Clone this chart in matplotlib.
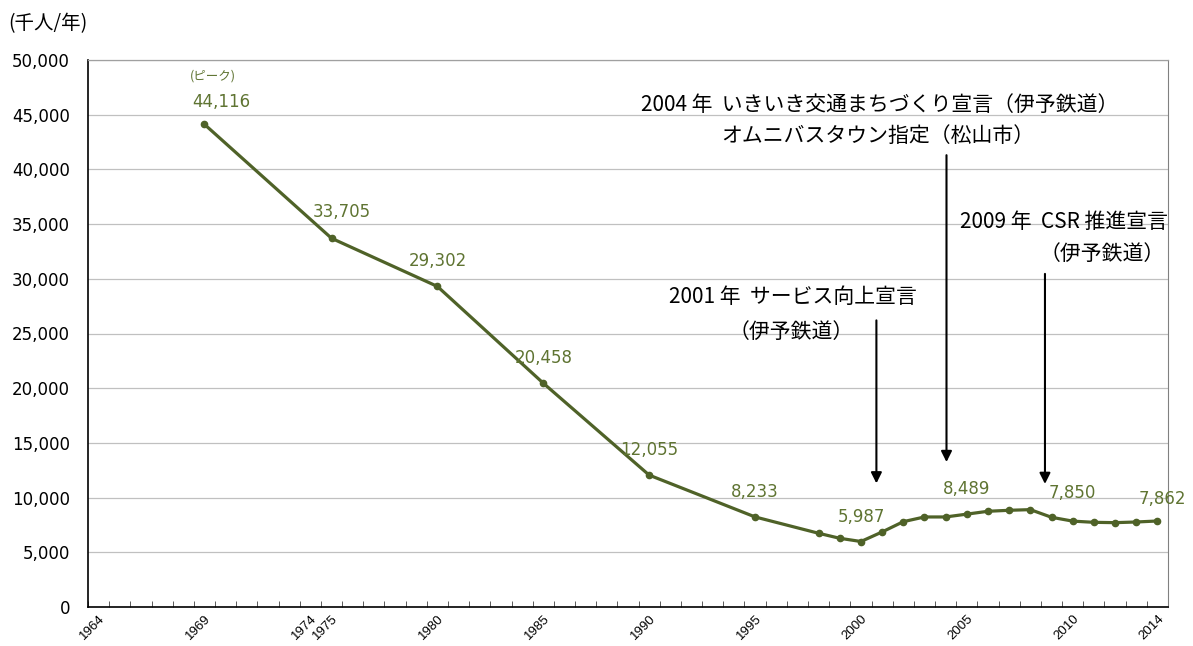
import matplotlib.pyplot as plt
from matplotlib.ticker import FuncFormatter, FixedLocator

plt.rcParams['font.family'] = ['Noto Sans CJK JP', 'DejaVu Sans']

# 輸送人員（千人/年）
years = [1969, 1975, 1980, 1985, 1990, 1995, 1998, 1999, 2000, 2001, 2002,
         2003, 2004, 2005, 2006, 2007, 2008, 2009, 2010, 2011, 2012, 2013, 2014]
riders = [44116, 33705, 29302, 20458, 12055, 8233, 6740, 6280, 5987, 6860, 7800,
          8230, 8230, 8489, 8750, 8840, 8900, 8200, 7850, 7740, 7710, 7770, 7862]

label_years = [1969, 1975, 1980, 1985, 1990, 1995, 2000, 2005, 2010, 2014]
tick_years = [1964, 1969, 1974, 1975, 1980, 1985, 1990, 1995, 2000, 2005, 2010, 2014]

# 注記: (年, 矢印の先, 矢印の根元, 1行目, 2行目)
events = [
    (2000.73, 11300, 26200, '2001 年  サービス向上宣言', '（伊予鉄道）'),
    (2004.04, 13250, 41300, '2004 年  いきいき交通まちづくり宣言（伊予鉄道）', 'オムニバスタウン指定（松山市）'),
    (2008.69, 11250, 30450, '2009 年  CSR 推進宣言', '（伊予鉄道）'),
]

olive = '#4f6228'
label_col = '#5f7432'
num_font = ['DejaVu Sans']

fig = plt.figure(figsize=(11.93, 6.46), dpi=100)
ax = fig.add_axes([88 / 1193, 39 / 646, 1080 / 1193, 547 / 646])

ax.plot(years, riders, color=olive, lw=2.3, marker='o', ms=4.5, zorder=3)

# データラベル（ずれはピクセル → ポイント）
offsets = {1969: (17, 22), 1975: (10, 26), 2014: (5, 22), 2010: (0, 28)}
for y, v in zip(years, riders):
    if y not in label_years:
        continue
    dx, dy = offsets.get(y, (0, 25))
    ax.annotate(f'{v:,}', (y, v), xytext=(dx * 0.72, dy * 0.72),
                textcoords='offset points', ha='center', va='center',
                fontsize=12, color=label_col, family=num_font)
ax.annotate('(ピーク)', (years[0], riders[0]), xytext=(8 * 0.72, 48 * 0.72),
            textcoords='offset points', ha='center', va='center',
            fontsize=9, color=label_col)

for x, tip, tail, line1, line2 in events:
    ax.annotate('', xy=(x, tip), xytext=(x, tail),
                arrowprops=dict(arrowstyle='-|>', color='black', lw=1.5,
                                mutation_scale=16, shrinkA=0, shrinkB=0))

ax.text(2000.9, 45900, events[1][3], ha='center', va='center', fontsize=15)
ax.text(2000.8, 43050, events[1][4], ha='center', va='center', fontsize=15)
ax.text(1996.8, 28350, events[0][3], ha='center', va='center', fontsize=15)
ax.text(1996.7, 25100, events[0][4], ha='center', va='center', fontsize=15)
ax.text(2009.6, 35200, events[2][3], ha='center', va='center', fontsize=15)
ax.text(2011.4, 32300, events[2][4], ha='center', va='center', fontsize=15)

ax.set_xlim(1963.5, 2014.5)
ax.set_ylim(0, 50000)
ax.set_yticks(range(0, 50001, 5000))
ax.yaxis.set_major_formatter(FuncFormatter(lambda v, p: f'{int(v):,}'))
ax.tick_params(axis='y', length=0, labelsize=12, pad=13)
for t in ax.get_yticklabels():
    t.set_family(num_font)
ax.grid(axis='y', color='#c0c0c0', lw=0.9)
ax.set_axisbelow(True)

ax.set_xticks(tick_years)
ax.set_xticklabels([str(t) for t in tick_years], rotation=45, ha='right',
                   rotation_mode='anchor', fontsize=9.5, family=['Liberation Sans'])
ax.tick_params(axis='x', which='major', length=0, pad=4)
ax.xaxis.set_minor_locator(FixedLocator([1963.5 + k for k in range(52)]))
ax.tick_params(axis='x', which='minor', direction='in', length=4, color='#404040')

ax.spines['left'].set_color('black')
ax.spines['bottom'].set_color('black')
ax.spines['left'].set_linewidth(1.2)
ax.spines['bottom'].set_linewidth(1.2)
ax.spines['right'].set_color('#808080')
ax.spines['top'].set_color('#a0a0a0')
ax.spines['top'].set_linewidth(0.9)

fig.text(8 / 1193, 1 - 24 / 646, '(千人/年)', ha='left', va='center', fontsize=14)

fig.savefig('out.png', dpi=100)
